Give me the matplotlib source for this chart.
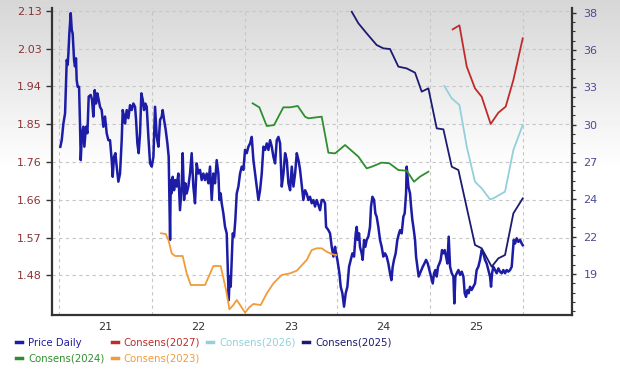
import matplotlib
matplotlib.use("Agg")
import matplotlib.pyplot as plt
import numpy as np
from matplotlib.ticker import FixedLocator, AutoMinorLocator
from matplotlib.lines import Line2D

# ---------------- data ----------------
price_year = [2021.011, 2021.026, 2021.044, 2021.062, 2021.072, 2021.080, 2021.090, 2021.098, 2021.108, 2021.123,
              2021.134, 2021.144, 2021.159, 2021.169, 2021.180, 2021.187, 2021.198, 2021.213, 2021.223, 2021.231,
              2021.245, 2021.259, 2021.270, 2021.288, 2021.303, 2021.317, 2021.339, 2021.353, 2021.367, 2021.382,
              2021.396, 2021.410, 2021.425, 2021.439, 2021.457, 2021.475, 2021.493, 2021.511, 2021.529, 2021.547,
              2021.565, 2021.576, 2021.590, 2021.605, 2021.619, 2021.637, 2021.655, 2021.673, 2021.684, 2021.698,
              2021.709, 2021.727, 2021.745, 2021.763, 2021.781, 2021.799, 2021.817, 2021.828, 2021.842, 2021.856,
              2021.871, 2021.885, 2021.900, 2021.914, 2021.928, 2021.943, 2021.961, 2021.979, 2021.997, 2022.015,
              2022.033, 2022.051, 2022.069, 2022.087, 2022.105, 2022.115, 2022.130, 2022.148, 2022.166, 2022.180,
              2022.195, 2022.202, 2022.209, 2022.223, 2022.238, 2022.252, 2022.266, 2022.284, 2022.302, 2022.320,
              2022.331, 2022.346, 2022.360, 2022.374, 2022.392, 2022.410, 2022.428, 2022.446, 2022.464, 2022.482,
              2022.500, 2022.518, 2022.536, 2022.554, 2022.572, 2022.590, 2022.608, 2022.626, 2022.644, 2022.662,
              2022.680, 2022.698, 2022.716, 2022.727, 2022.741, 2022.752, 2022.770, 2022.788, 2022.806, 2022.817,
              2022.828, 2022.838, 2022.849, 2022.860, 2022.871, 2022.885, 2022.899, 2022.914, 2022.932, 2022.950,
              2022.968, 2022.986, 2023.004, 2023.022, 2023.040, 2023.058, 2023.076, 2023.094, 2023.112, 2023.130,
              2023.148, 2023.166, 2023.184, 2023.202, 2023.220, 2023.238, 2023.256, 2023.274, 2023.292, 2023.310,
              2023.328, 2023.346, 2023.364, 2023.382, 2023.400, 2023.418, 2023.436, 2023.454, 2023.472, 2023.490,
              2023.508, 2023.526, 2023.544, 2023.562, 2023.580, 2023.597, 2023.633, 2023.651, 2023.669, 2023.687,
              2023.705, 2023.723, 2023.741, 2023.759, 2023.777, 2023.795, 2023.813, 2023.831, 2023.849, 2023.867,
              2023.878, 2023.903, 2023.921, 2023.939, 2023.957, 2023.975, 2023.986, 2024.000, 2024.022, 2024.036,
              2024.054, 2024.072, 2024.090, 2024.108, 2024.126, 2024.144, 2024.162, 2024.180, 2024.198, 2024.209,
              2024.219, 2024.234, 2024.244, 2024.262, 2024.273, 2024.288, 2024.302, 2024.316, 2024.334, 2024.352,
              2024.363, 2024.378, 2024.396, 2024.410, 2024.424, 2024.442, 2024.460, 2024.478, 2024.496, 2024.514,
              2024.532, 2024.550, 2024.568, 2024.583, 2024.597, 2024.611, 2024.629, 2024.647, 2024.665, 2024.676,
              2024.694, 2024.712, 2024.726, 2024.741, 2024.748, 2024.766, 2024.784, 2024.795, 2024.809, 2024.820,
              2024.838, 2024.849, 2024.863, 2024.877, 2024.892, 2024.906, 2024.921, 2024.939, 2024.957, 2024.975,
              2024.993, 2025.011, 2025.029, 2025.043, 2025.057, 2025.072, 2025.086, 2025.101, 2025.115, 2025.129,
              2025.144, 2025.158, 2025.173, 2025.187, 2025.201, 2025.216, 2025.234, 2025.252, 2025.262, 2025.273,
              2025.288, 2025.306, 2025.324, 2025.342, 2025.360, 2025.374, 2025.388, 2025.403, 2025.417, 2025.431,
              2025.449, 2025.467, 2025.485, 2025.503, 2025.521, 2025.539, 2025.557, 2025.575, 2025.593, 2025.611,
              2025.629, 2025.647, 2025.658, 2025.669, 2025.683, 2025.701, 2025.719, 2025.737, 2025.755, 2025.773,
              2025.791, 2025.809, 2025.827, 2025.845, 2025.863, 2025.881, 2025.892, 2025.903, 2025.917, 2025.935,
              2025.953, 2025.971, 2025.989, 2026.000]
price_value = [1.796, 1.812, 1.853, 1.878, 1.952, 2.009, 1.997, 2.025, 2.074, 2.124,
               2.083, 2.074, 2.009, 1.993, 2.013, 1.960, 1.943, 1.943, 1.853, 1.763,
               1.829, 1.845, 1.796, 1.845, 1.829, 1.919, 1.923, 1.911, 1.870, 1.935,
               1.902, 1.927, 1.911, 1.894, 1.886, 1.845, 1.870, 1.829, 1.812, 1.812,
               1.763, 1.722, 1.771, 1.780, 1.747, 1.710, 1.730, 1.812, 1.886, 1.870,
               1.853, 1.886, 1.866, 1.898, 1.886, 1.902, 1.894, 1.862, 1.804, 1.780,
               1.829, 1.927, 1.911, 1.886, 1.902, 1.894, 1.820, 1.755, 1.747, 1.771,
               1.894, 1.820, 1.796, 1.862, 1.870, 1.886, 1.862, 1.837, 1.804, 1.771,
               1.567, 1.714, 1.681, 1.722, 1.689, 1.714, 1.698, 1.730, 1.640, 1.698,
               1.780, 1.665, 1.706, 1.681, 1.698, 1.730, 1.780, 1.698, 1.657, 1.755,
               1.730, 1.739, 1.714, 1.730, 1.714, 1.730, 1.706, 1.747, 1.665, 1.730,
               1.706, 1.763, 1.730, 1.665, 1.681, 1.657, 1.632, 1.599, 1.583, 1.501,
               1.419, 1.477, 1.452, 1.518, 1.583, 1.575, 1.616, 1.681, 1.698, 1.730,
               1.747, 1.739, 1.788, 1.780, 1.796, 1.804, 1.820, 1.763, 1.730, 1.698,
               1.665, 1.689, 1.730, 1.796, 1.788, 1.804, 1.788, 1.812, 1.796, 1.771,
               1.755, 1.812, 1.820, 1.804, 1.698, 1.730, 1.780, 1.763, 1.706, 1.689,
               1.747, 1.698, 1.730, 1.780, 1.763, 1.740, 1.665, 1.689, 1.681, 1.665,
               1.673, 1.657, 1.665, 1.649, 1.665, 1.653, 1.640, 1.665, 1.665, 1.657,
               1.599, 1.591, 1.583, 1.550, 1.526, 1.550, 1.534, 1.518, 1.485, 1.452,
               1.436, 1.403, 1.436, 1.452, 1.501, 1.518, 1.534, 1.526, 1.583, 1.599,
               1.567, 1.583, 1.550, 1.534, 1.518, 1.567, 1.550, 1.567, 1.575, 1.599,
               1.649, 1.673, 1.665, 1.632, 1.624, 1.599, 1.567, 1.550, 1.526, 1.534,
               1.526, 1.509, 1.485, 1.468, 1.501, 1.518, 1.534, 1.567, 1.583, 1.591,
               1.583, 1.624, 1.632, 1.681, 1.747, 1.698, 1.681, 1.649, 1.616, 1.599,
               1.567, 1.526, 1.501, 1.477, 1.485, 1.493, 1.501, 1.509, 1.518, 1.509,
               1.493, 1.477, 1.460, 1.485, 1.493, 1.477, 1.501, 1.509, 1.518, 1.542,
               1.534, 1.542, 1.526, 1.509, 1.575, 1.501, 1.485, 1.477, 1.411, 1.477,
               1.485, 1.493, 1.481, 1.489, 1.477, 1.436, 1.427, 1.444, 1.436, 1.452,
               1.444, 1.452, 1.460, 1.493, 1.501, 1.518, 1.542, 1.534, 1.518, 1.509,
               1.493, 1.477, 1.452, 1.485, 1.501, 1.493, 1.485, 1.497, 1.489, 1.485,
               1.493, 1.485, 1.493, 1.489, 1.493, 1.501, 1.534, 1.567, 1.558, 1.571,
               1.562, 1.567, 1.558, 1.554]

c2027_year = [2025.244, 2025.317, 2025.396, 2025.485, 2025.557, 2025.654, 2025.737, 2025.816, 2025.899, 2026.000]
c2027_value = [36.79, 37.08, 34.08, 32.50, 31.89, 29.91, 30.73, 31.17, 33.11, 36.14]

c2026_year = [2025.154, 2025.234, 2025.317, 2025.396, 2025.485, 2025.557, 2025.647, 2025.683, 2025.809, 2025.899, 2026.000]
c2026_value = [32.67, 31.77, 31.29, 28.26, 25.71, 25.23, 24.43, 24.50, 24.99, 28.02, 29.83]

c2025_year = [2024.155, 2024.227, 2024.316, 2024.424, 2024.496, 2024.568, 2024.658, 2024.748, 2024.838, 2024.910,
              2024.982, 2025.072, 2025.144, 2025.234, 2025.306, 2025.485, 2025.557, 2025.665, 2025.737, 2025.809,
              2025.899, 2026.000]
c2025_value = [38.07, 37.23, 36.50, 35.65, 35.41, 35.36, 34.08, 33.95, 33.64, 32.26,
               32.50, 29.59, 29.52, 26.80, 26.56, 21.11, 20.87, 19.53, 20.14, 20.38,
               23.41, 24.50]

c2024_year = [2023.086, 2023.158, 2023.238, 2023.317, 2023.417, 2023.490, 2023.572, 2023.651, 2023.687, 2023.831,
              2023.903, 2023.975, 2024.083, 2024.227, 2024.316, 2024.370, 2024.478, 2024.561, 2024.658, 2024.748,
              2024.827, 2024.892, 2024.982]
c2024_value = [31.41, 31.12, 29.76, 29.83, 31.12, 31.12, 31.22, 30.44, 30.32, 30.44,
               27.82, 27.77, 28.38, 27.53, 26.68, 26.80, 27.10, 27.05, 26.56, 26.51,
               25.71, 26.08, 26.44]

c2023_year = [2022.097, 2022.148, 2022.177, 2022.213, 2022.249, 2022.331, 2022.374, 2022.418, 2022.572, 2022.662,
              2022.741, 2022.799, 2022.835, 2022.878, 2022.914, 2022.950, 2023.004, 2023.050, 2023.094, 2023.173,
              2023.238, 2023.310, 2023.400, 2023.490, 2023.562, 2023.669, 2023.723, 2023.777, 2023.831, 2023.885,
              2023.939, 2023.986]
c2023_value = [21.96, 21.91, 21.47, 20.50, 20.31, 20.31, 19.05, 18.20, 18.20, 19.58,
               19.58, 17.84, 16.43, 16.75, 17.11, 16.75, 16.19, 16.58, 16.82, 16.75,
               17.59, 18.32, 18.93, 19.05, 19.24, 20.02, 20.74, 20.87, 20.87, 20.62,
               20.45, 20.38]

left_tick_labels = ["1.48", "1.57", "1.66", "1.76", "1.85", "1.94", "2.03", "2.13"]
right_tick_labels = ["19", "22", "24", "27", "30", "33", "36", "38"]
year_labels = ["21", "22", "23", "24", "25"]
year_bounds = [2021, 2022, 2023, 2024, 2025, 2026]

# ---------------- styles ----------------
COL_PRICE = "#1c1ca6"
COL_2027 = "#bf2b2b"
COL_2026 = "#92d0da"
COL_2025 = "#1b1b72"
COL_2024 = "#2f8f2f"
COL_2023 = "#f29b38"

fig = plt.figure(figsize=(6.2, 3.73), dpi=100)

# background gradient (gray at top fading to white)
bg = fig.add_axes([0, 0, 1, 1], zorder=-10)
rows = np.arange(373)
shade = 0.84 + 0.16 * np.clip(rows / 170.0, 0, 1)
bg.imshow(shade[:, None], cmap="gray", vmin=0, vmax=1, aspect="auto", extent=[0, 1, 0, 1])
bg.axis("off")

ax = fig.add_axes([0.0844, 0.1555, 0.8387, 0.8222])
ax.set_facecolor("none")
ax.set_xlim(2020.9245, 2026.535)
ax.set_ylim(1.3825, 2.1359)

ax2 = ax.twinx()
ax2.set_facecolor("none")
ax2.set_ylim(16.019, 38.32)

# grid
left_ticks = [1.48 + k * 0.65 / 7 for k in range(8)]
ax.yaxis.set_major_locator(FixedLocator(left_ticks))
ax.set_yticklabels(left_tick_labels)
ax.set_xticks(year_bounds)
ax.set_xticklabels([""] * len(year_bounds))
ax.set_xticks([y + 0.5 for y in year_bounds[:-1]], minor=True)
ax.set_xticklabels(year_labels, minor=True)
ax.grid(True, which="major", axis="both", color="#c6c6c6", linestyle=(0, (3, 3)), linewidth=0.8)
ax.set_axisbelow(True)

# price
ax.plot(price_year, price_value, color=COL_PRICE, lw=1.8, zorder=3)

# consensus lines
ax2.plot(c2023_year, c2023_value, color=COL_2023, lw=1.3)
ax2.plot(c2024_year, c2024_value, color=COL_2024, lw=1.3)
ax2.plot(c2025_year, c2025_value, color=COL_2025, lw=1.3)
ax2.plot(c2026_year, c2026_value, color=COL_2026, lw=1.3)
ax2.plot(c2027_year, c2027_value, color=COL_2027, lw=1.3)

right_ticks = [19 + k * 19 / 7 for k in range(8)]
ax2.yaxis.set_major_locator(FixedLocator(right_ticks))
ax2.set_yticklabels(right_tick_labels)
ax2.yaxis.set_minor_locator(AutoMinorLocator(4))

# spines
for a in (ax, ax2):
    a.spines["top"].set_visible(False)
ax.spines["right"].set_visible(False)
ax2.spines["left"].set_visible(False)
ax2.spines["bottom"].set_visible(False)
for sp in (ax.spines["left"], ax.spines["bottom"], ax2.spines["right"]):
    sp.set_color("#333333")
    sp.set_linewidth(1.6)

ax.tick_params(axis="y", which="major", direction="out", length=4, width=1, color="#333333",
               labelsize=8, labelcolor="#8b3333", pad=3.5)
ax.tick_params(axis="x", which="both", length=0, labelsize=8, labelcolor="#333333", pad=5)
ax2.tick_params(axis="y", which="major", direction="out", length=3, width=1, color="#333333",
                labelsize=8, labelcolor="#4b4b95", pad=5)
ax2.tick_params(axis="y", which="minor", direction="out", length=2, width=0.8, color="#333333")

# legend
handles = [
    Line2D([0], [0], color=COL_PRICE, lw=2.5),
    Line2D([0], [0], color=COL_2024, lw=2.5),
    Line2D([0], [0], color=COL_2027, lw=2.5),
    Line2D([0], [0], color=COL_2023, lw=2.5),
    Line2D([0], [0], color=COL_2026, lw=2.5),
    Line2D([0], [0], color=COL_2025, lw=2.5),
]
labels = ["Price Daily", "Consens(2024)", "Consens(2027)", "Consens(2023)", "Consens(2026)", "Consens(2025)"]
leg = fig.legend(handles, labels, loc="upper left", bbox_to_anchor=(0.0258, 0.095), frameon=False,
                 ncol=4, fontsize=7.3, handlelength=0.6, handletextpad=0.6, columnspacing=0.7,
                 borderpad=0, borderaxespad=0, labelspacing=0.55)
for txt, h in zip(leg.get_texts(), handles):
    txt.set_color(h.get_color())

fig.savefig("out.png", dpi=100)
